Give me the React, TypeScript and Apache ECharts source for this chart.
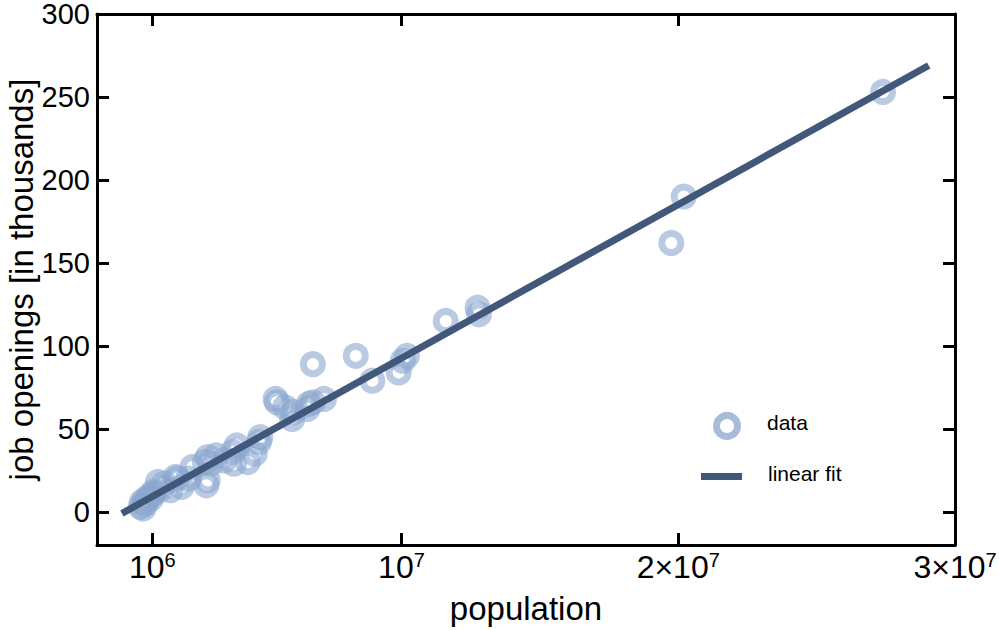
import React, { useEffect, useRef } from "react";
import * as echarts from "echarts";

// population in millions, job openings in thousands
const populationM = [
  0.58, 0.63, 0.67, 0.74, 0.76, 0.86, 0.95, 1.03, 1.06, 1.2, 1.33, 1.43, 1.65, 1.84, 1.9, 2.05,
  2.3, 2.45, 2.9, 2.95, 3.0, 3.0, 3.1, 3.3, 3.6, 3.9, 3.95, 4.05, 4.45, 4.7, 4.85, 4.9,
  5.45, 5.5, 5.8, 6.05, 6.1, 6.6, 6.65, 6.8, 6.8, 7.2, 8.35, 8.95, 9.9, 10.05, 10.2,
  11.6, 12.75, 12.8, 19.75, 20.2, 27.4,
];
const jobOpenings = [
  3, 6, 2, 7, 5, 9, 8, 12, 11, 18, 14, 17, 13, 21, 20, 15,
  20, 27, 30, 16, 19, 33, 29, 34, 31, 36, 29, 40, 30, 35, 42, 45,
  68, 66, 63, 56, 60, 62, 65, 89, 66, 68, 94, 79, 84, 91, 94,
  115, 123, 119, 162, 190, 253,
];
const fitPopulation = [-0.1e6, 29.05e6];
const fitJobs = [-1, 269];

const xTickValues = [1e6, 1e7, 2e7, 3e7];
const xTickLabels = ["10{sup|6}", "10{sup|7}", "2×10{sup|7}", "3×10{sup|7}"];
const yTickValues = [0, 50, 100, 150, 200, 250, 300];

const ringColor = "rgba(138,166,207,0.75)";
const lineColor = "#42587a";

export default function App() {
  const ref = useRef<HTMLDivElement>(null);
  useEffect(() => {
    if (!ref.current) return;
    const chart = echarts.init(ref.current, undefined, { renderer: "svg" });
    const scatterData = populationM.map((p, i) => [p * 1e6, jobOpenings[i]]);
    const fitData = fitPopulation.map((p, i) => [p, fitJobs[i]]);
    const font = "Liberation Sans, Arial, Helvetica, sans-serif";
    const frame = { show: true, onZero: false, lineStyle: { color: "#000", width: 3 } };
    const xTick = {
      show: true,
      inside: true,
      length: 12,
      customValues: xTickValues,
      lineStyle: { color: "#000", width: 3 },
    };
    const yTick = {
      show: true,
      inside: true,
      length: 12,
      customValues: yTickValues,
      lineStyle: { color: "#000", width: 3 },
    };
    chart.setOption({
      animation: false,
      grid: { left: 97, right: 44, top: 14, bottom: 85, containLabel: false, outerBoundsMode: "none" },
      xAxis: [
        {
          type: "value",
          min: -1e6,
          max: 3e7,
          position: "bottom",
          name: "population",
          nameLocation: "middle",
          nameGap: 47,
          nameMoveOverlap: false,
          nameTextStyle: { fontFamily: font, fontSize: 33, color: "#000" },
          axisLine: frame,
          axisTick: xTick,
          splitLine: { show: false },
          axisLabel: {
            customValues: xTickValues,
            margin: 5,
            fontFamily: font,
            fontSize: 32,
            lineHeight: 34,
            color: "#000",
            formatter: (v: number) => {
              const i = xTickValues.indexOf(v);
              return i >= 0 ? xTickLabels[i] : "";
            },
            rich: {
              sup: { fontFamily: font, fontSize: 20, lineHeight: 20, verticalAlign: "top", color: "#000" },
            },
          },
        },
        {
          type: "value",
          min: -1e6,
          max: 3e7,
          position: "top",
          axisLine: frame,
          axisTick: xTick,
          splitLine: { show: false },
          axisLabel: { show: false },
        },
      ],
      yAxis: [
        {
          type: "value",
          min: -20,
          max: 300,
          position: "left",
          name: "job openings [in thousands]",
          nameLocation: "middle",
          nameGap: 59,
          nameMoveOverlap: false,
          nameRotate: 90,
          nameTextStyle: { fontFamily: font, fontSize: 33, lineHeight: 33, color: "#000" },
          axisLine: frame,
          axisTick: yTick,
          splitLine: { show: false },
          axisLabel: {
            customValues: yTickValues,
            margin: 7,
            fontFamily: font,
            fontSize: 29,
            lineHeight: 26,
            color: "#000",
          },
        },
        {
          type: "value",
          min: -20,
          max: 300,
          position: "right",
          axisLine: frame,
          axisTick: yTick,
          splitLine: { show: false },
          axisLabel: { show: false },
        },
      ],
      series: [
        {
          name: "data",
          type: "scatter",
          xAxisIndex: 0,
          yAxisIndex: 0,
          data: scatterData,
          symbol: "circle",
          symbolSize: 19,
          itemStyle: { color: "rgba(255,255,255,0)", borderColor: ringColor, borderWidth: 7 },
          z: 2,
        },
        {
          name: "linear fit",
          type: "line",
          xAxisIndex: 0,
          yAxisIndex: 0,
          data: fitData,
          showSymbol: false,
          symbol: "none",
          lineStyle: { color: lineColor, width: 7 },
          z: 3,
        },
      ],
      graphic: [
        {
          type: "circle",
          shape: { cx: 727, cy: 426, r: 10.5 },
          style: { fill: "none", stroke: ringColor, lineWidth: 7 },
        },
        {
          type: "rect",
          shape: { x: 701, y: 473, width: 41, height: 7 },
          style: { fill: lineColor },
        },
        {
          type: "text",
          x: 767,
          y: 422,
          style: { text: "data", fontFamily: font, fontSize: 21, fill: "#000", verticalAlign: "middle" },
        },
        {
          type: "text",
          x: 768,
          y: 473,
          style: { text: "linear fit", fontFamily: font, fontSize: 21, fill: "#000", verticalAlign: "middle" },
        },
      ],
    });
    return () => chart.dispose();
  }, []);
  return <div ref={ref} style={{ width: 999, height: 630, position: "absolute", left: 0, top: 0 }} />;
}
